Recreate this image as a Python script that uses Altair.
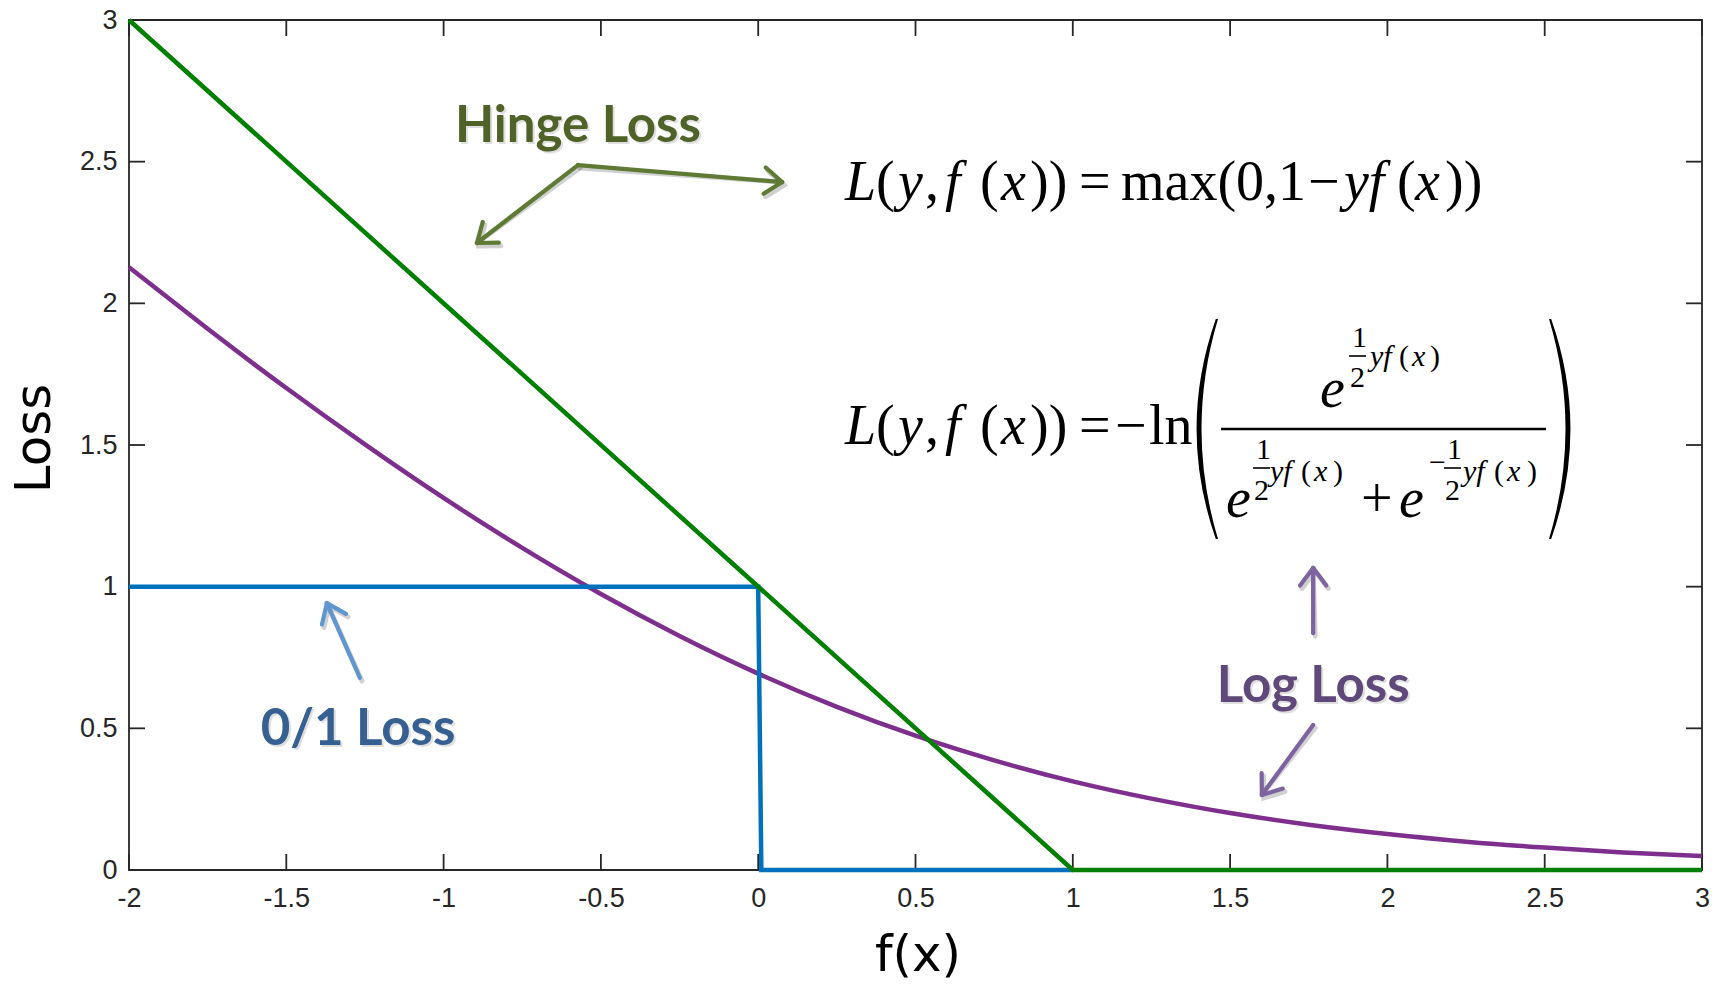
import math
import altair as alt
import pandas as pd

# plot area size (pixels) and data ranges
W, H = 1573, 850
X_DOMAIN = [-2, 3]
Y_DOMAIN = [0, 3]

X_TICKS = [-2, -1.5, -1, -0.5, 0, 0.5, 1, 1.5, 2, 2.5, 3]
Y_TICKS = [0, 0.5, 1, 1.5, 2, 2.5, 3]

# loss curves
HINGE_X = [-2, 1, 3]
HINGE_Y = [3, 0, 0]

ZERO_ONE_X = [-2, 0, 0.01, 1]
ZERO_ONE_Y = [1, 1, 0, 0]

LOG_X = [-2, -1.75, -1.5, -1.25, -1, -0.75, -0.5, -0.25, 0, 0.25, 0.5,
         0.75, 1, 1.25, 1.5, 1.75, 2, 2.25, 2.5, 2.75, 3]
LOG_Y = [2.127, 1.910, 1.701, 1.502, 1.313, 1.137, 0.974, 0.826, 0.693,
         0.576, 0.474, 0.387, 0.313, 0.252, 0.201, 0.160, 0.127, 0.100,
         0.079, 0.062, 0.049]

# callout labels
LABELS = ["Hinge Loss", "0/1 Loss", "Log Loss"]
LABEL_X = [-0.573, -1.272, 1.764]
LABEL_Y = [2.569, 0.441, 0.593]
LABEL_COLORS = ["#4f6228", "#366092", "#5f497a"]

# callout arrows, tail -> tip
ARROW_X0 = [-0.573, -0.573, -1.266, 1.764, 1.764]
ARROW_Y0 = [2.488, 2.488, 0.678, 0.836, 0.512]
ARROW_X1 = [0.076, -0.894, -1.371, 1.764, 1.601]
ARROW_Y1 = [2.428, 2.213, 0.942, 1.066, 0.265]
ARROW_COLORS = ["#5e7a34", "#5e7a34", "#6096d0", "#7d64a0", "#7d64a0"]

GREEN = "#008000"
BLUE = "#0072bd"
PURPLE = "#7e2f8e"
AXIS_COLOR = "#262626"

# formula pieces: text, left x, baseline y (pixels inside the plot), size, style
EQ_PIECES = [
    # hinge loss formula
    ("L", 716, 180, 56, "italic"), ("(", 747, 180, 56, "normal"),
    ("y", 769, 180, 56, "italic"), (",", 796, 180, 56, "normal"),
    ("f", 816, 180, 56, "italic"), ("(", 851, 180, 56, "normal"),
    ("x", 872, 180, 56, "italic"), ("))", 901, 180, 56, "normal"),
    ("=", 950, 180, 56, "normal"), ("max(0,1", 992, 180, 56, "normal"),
    ("\u2212", 1179, 180, 56, "normal"), ("yf", 1215, 180, 56, "italic"),
    ("(", 1268, 180, 56, "normal"), ("x", 1286, 180, 56, "italic"),
    ("))", 1316, 180, 56, "normal"),
    # log loss formula
    ("L", 716, 424, 56, "italic"), ("(", 747, 424, 56, "normal"),
    ("y", 769, 424, 56, "italic"), (",", 796, 424, 56, "normal"),
    ("f", 816, 424, 56, "italic"), ("(", 851, 424, 56, "normal"),
    ("x", 872, 424, 56, "italic"), ("))", 901, 424, 56, "normal"),
    ("=", 950, 424, 56, "normal"), ("\u2212", 986, 424, 56, "normal"),
    ("ln", 1020, 424, 56, "normal"),
    # numerator
    ("e", 1191, 387, 56, "italic"),
    ("1", 1223, 327, 30, "normal"), ("2", 1221, 367, 30, "normal"),
    ("yf", 1241, 346, 30, "italic"), ("(", 1270, 346, 30, "normal"),
    ("x", 1283, 346, 30, "italic"), (")", 1301, 346, 30, "normal"),
    # denominator
    ("e", 1097, 497, 56, "italic"),
    ("1", 1127, 439, 30, "normal"), ("2", 1125, 480, 30, "normal"),
    ("yf", 1141, 461, 30, "italic"), ("(", 1172, 461, 30, "normal"),
    ("x", 1185, 461, 30, "italic"), (")", 1204, 461, 30, "normal"),
    ("+", 1232, 497, 56, "normal"), ("e", 1270, 497, 56, "italic"),
    ("\u2212", 1300, 452, 30, "normal"),
    ("1", 1318, 439, 30, "normal"), ("2", 1316, 480, 30, "normal"),
    ("yf", 1334, 461, 30, "italic"), ("(", 1365, 461, 30, "normal"),
    ("x", 1378, 461, 30, "italic"), (")", 1398, 461, 30, "normal"),
]

# fraction bars in the log loss formula: x0, x1, y, stroke width (pixels)
EQ_BARS = [(1092, 1417, 409, 2.5), (1220, 1237, 336, 1.6),
           (1124, 1141, 448, 1.6), (1315, 1332, 448, 1.6)]

# big parentheses around the fraction: centre x, centre y, height
PAREN_CX = [1078, 1431]
PAREN_CY = 409
PAREN_H = 220
LEFT_PAREN = "M 0.08 -1 Q -0.27 0 0.08 1 L 0.1 1 Q -0.2 0 0.1 -1 Z"
RIGHT_PAREN = "M -0.08 -1 Q 0.27 0 -0.08 1 L -0.1 1 Q 0.2 0 -0.1 -1 Z"
CHEVRON = "M -1 -0.75 L 0 0 L -1 0.75"

x_scale = alt.Scale(domain=X_DOMAIN, nice=False, zero=False)
y_scale = alt.Scale(domain=Y_DOMAIN, nice=False, zero=False)

x_axis = alt.Axis(
    values=X_TICKS, labelExpr="'' + datum.value", domain=False, ticks=False,
    tickSize=0, grid=False, labelFont="Liberation Sans", labelFontSize=27,
    labelColor=AXIS_COLOR, labelPadding=15, labelFlush=False,
    labelOverlap=False, title="f(x)", titleFont="DejaVu Sans",
    titleFontSize=50, titleFontWeight="normal", titleColor="#000000",
    titleX=W / 2 + 2, titleY=85, titleAlign="center", titleBaseline="middle",
)
y_axis = alt.Axis(
    values=Y_TICKS, labelExpr="'' + datum.value", domain=False, ticks=False,
    tickSize=0, grid=False, labelFont="Liberation Sans", labelFontSize=27,
    labelColor=AXIS_COLOR, labelPadding=12, labelFlush=False,
    labelOverlap=False, title="Loss", titleFont="DejaVu Sans",
    titleFontSize=50, titleFontWeight="normal", titleColor="#000000",
    titleAngle=270, titleX=-95, titleY=H / 2 - 7, titleAlign="center",
    titleBaseline="middle",
)


def X(field):
    return alt.X(field, type="quantitative", scale=x_scale, axis=x_axis)


def Y(field):
    return alt.Y(field, type="quantitative", scale=y_scale, axis=y_axis)


# tables
x_ticks_df = pd.DataFrame({"t": X_TICKS})
y_ticks_df = pd.DataFrame({"t": Y_TICKS})
hinge_df = pd.DataFrame({"x": HINGE_X, "y": HINGE_Y})
zero_one_df = pd.DataFrame({"x": ZERO_ONE_X, "y": ZERO_ONE_Y})
log_df = pd.DataFrame({"x": LOG_X, "y": LOG_Y})
labels_df = pd.DataFrame({"label": LABELS, "x": LABEL_X, "y": LABEL_Y,
                          "c": LABEL_COLORS})

px_per_x = W / (X_DOMAIN[1] - X_DOMAIN[0])
px_per_y = H / (Y_DOMAIN[1] - Y_DOMAIN[0])
angles = []
for x0, y0, x1, y1 in zip(ARROW_X0, ARROW_Y0, ARROW_X1, ARROW_Y1):
    dx = (x1 - x0) * px_per_x
    dy = -(y1 - y0) * px_per_y
    angles.append(math.degrees(math.atan2(dy, dx)) % 360)
arrows_df = pd.DataFrame({"x0": ARROW_X0, "y0": ARROW_Y0, "x1": ARROW_X1,
                          "y1": ARROW_Y1, "c": ARROW_COLORS, "ang": angles})

eq_df = pd.DataFrame(EQ_PIECES, columns=["t", "px", "py", "size", "style"])
bars_df = pd.DataFrame(EQ_BARS, columns=["x0", "x1", "y", "w"])

# inward ticks on all four sides
tick_len = 16
ticks_bottom = alt.Chart(x_ticks_df).mark_rule(
    color=AXIS_COLOR, strokeWidth=1.8).encode(
    x=X("t"), y=alt.value(H), y2=alt.value(H - tick_len))
ticks_top = alt.Chart(x_ticks_df).mark_rule(
    color=AXIS_COLOR, strokeWidth=1.8).encode(
    x=X("t"), y=alt.value(0), y2=alt.value(tick_len))
ticks_left = alt.Chart(y_ticks_df).mark_rule(
    color=AXIS_COLOR, strokeWidth=1.8).encode(
    y=Y("t"), x=alt.value(0), x2=alt.value(tick_len))
ticks_right = alt.Chart(y_ticks_df).mark_rule(
    color=AXIS_COLOR, strokeWidth=1.8).encode(
    y=Y("t"), x=alt.value(W - tick_len), x2=alt.value(W))

# curves
log_line = alt.Chart(log_df).mark_line(
    color=PURPLE, strokeWidth=4.5, interpolate="natural").encode(
    x=X("x"), y=Y("y"))
zero_one_line = alt.Chart(zero_one_df).mark_line(
    color=BLUE, strokeWidth=4.5, strokeJoin="miter").encode(
    x=X("x"), y=Y("y"), order="x:Q")
hinge_line = alt.Chart(hinge_df).mark_line(
    color=GREEN, strokeWidth=4.5).encode(x=X("x"), y=Y("y"))

# callout arrows with a soft drop shadow
arrow_shadow = alt.Chart(arrows_df).mark_rule(
    color="#000000", opacity=0.18, strokeWidth=5, xOffset=2, yOffset=3,
    strokeCap="round").encode(
    x=X("x0"), y=Y("y0"), x2="x1", y2="y1")
arrow_head_shadow = alt.Chart(arrows_df).mark_point(
    shape=CHEVRON, filled=False, size=1225, color="#000000", opacity=0.18,
    strokeWidth=5, xOffset=2, yOffset=3, strokeCap="round").encode(
    x=X("x1"), y=Y("y1"), angle=alt.Angle("ang:Q", scale=None))
arrow_shaft = alt.Chart(arrows_df).mark_rule(
    strokeWidth=4.2, strokeCap="round").encode(
    x=X("x0"), y=Y("y0"), x2="x1", y2="y1",
    color=alt.Color("c:N", scale=None))
arrow_head = alt.Chart(arrows_df).mark_point(
    shape=CHEVRON, filled=False, size=1225, strokeWidth=4.2, opacity=1,
    strokeCap="round", strokeJoin="round").encode(
    x=X("x1"), y=Y("y1"), angle=alt.Angle("ang:Q", scale=None),
    color=alt.Color("c:N", scale=None))

label_shadow = alt.Chart(labels_df).mark_text(
    font="Lato", fontWeight="bold", fontSize=51, align="center",
    baseline="alphabetic", color="#000000", opacity=0.12, dx=2, dy=2).encode(
    x=X("x"), y=Y("y"), text="label:N")
label_text = alt.Chart(labels_df).mark_text(
    font="Lato", fontWeight="bold", fontSize=51, align="center",
    baseline="alphabetic").encode(
    x=X("x"), y=Y("y"), text="label:N", color=alt.Color("c:N", scale=None))

# formulas
eq_italic = alt.Chart(eq_df[eq_df["style"] == "italic"]).mark_text(
    font="Liberation Serif", fontStyle="italic", align="left",
    baseline="alphabetic", color="#000000").encode(
    x=alt.X("px:Q", scale=None), y=alt.Y("py:Q", scale=None),
    size=alt.Size("size:Q", scale=None, legend=None), text="t:N")
eq_regular = alt.Chart(eq_df[eq_df["style"] == "normal"]).mark_text(
    font="Liberation Serif", align="left", baseline="alphabetic",
    color="#000000").encode(
    x=alt.X("px:Q", scale=None), y=alt.Y("py:Q", scale=None),
    size=alt.Size("size:Q", scale=None, legend=None), text="t:N")
eq_bars = alt.Chart(bars_df).mark_rule(color="#000000").encode(
    x=alt.X("x0:Q", scale=None), x2="x1:Q",
    y=alt.Y("y:Q", scale=None),
    strokeWidth=alt.StrokeWidth("w:Q", scale=None, legend=None))
paren_df = pd.DataFrame({"cx": PAREN_CX, "cy": [PAREN_CY] * 2})
left_paren = alt.Chart(paren_df.iloc[[0]]).mark_point(
    shape=LEFT_PAREN, filled=True, size=PAREN_H ** 2, color="#000000",
    opacity=1, strokeWidth=0).encode(
    x=alt.X("cx:Q", scale=None), y=alt.Y("cy:Q", scale=None))
right_paren = alt.Chart(paren_df.iloc[[1]]).mark_point(
    shape=RIGHT_PAREN, filled=True, size=PAREN_H ** 2, color="#000000",
    opacity=1, strokeWidth=0).encode(
    x=alt.X("cx:Q", scale=None), y=alt.Y("cy:Q", scale=None))

chart = alt.layer(
    ticks_bottom, ticks_top, ticks_left, ticks_right,
    log_line, zero_one_line, hinge_line,
    arrow_shadow, arrow_head_shadow, arrow_shaft, arrow_head,
    label_shadow, label_text,
    eq_bars, eq_italic, eq_regular, left_paren, right_paren,
).properties(
    width=W, height=H,
    padding={"left": 129, "top": 20, "right": 23, "bottom": 118},
    autosize=alt.AutoSizeParams(type="none"),
    background="#ffffff",
).configure_view(
    stroke=AXIS_COLOR, strokeWidth=1.8,
)

chart.save("out.html", embed_options={"renderer": "svg", "actions": False})
